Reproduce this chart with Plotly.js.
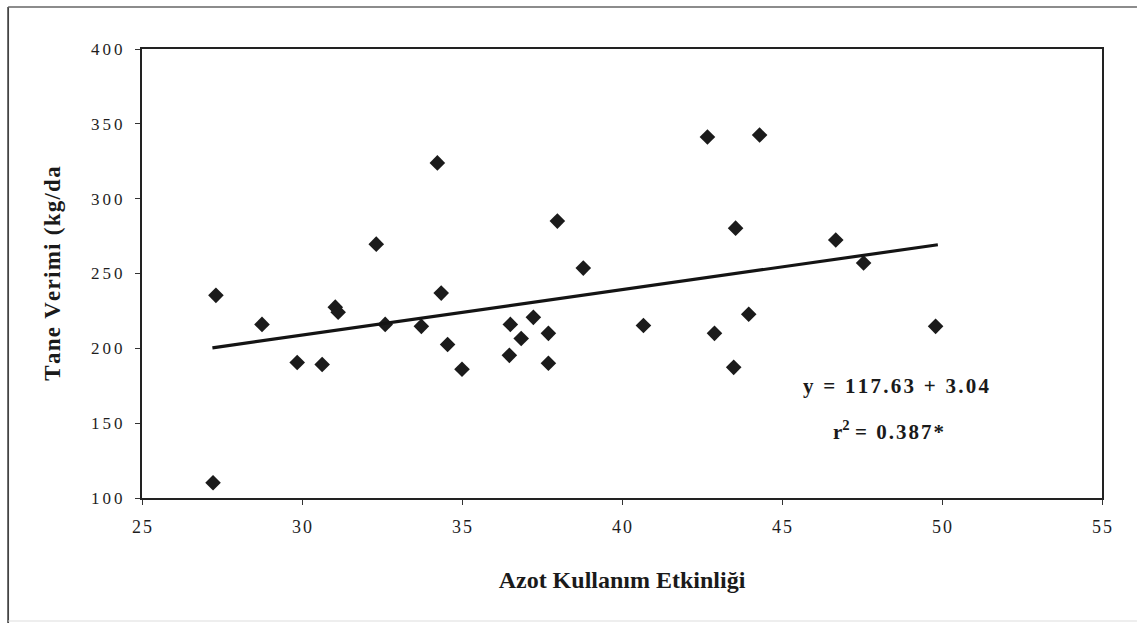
<!DOCTYPE html>
<html>
<head>
<meta charset="utf-8">
<script src="https://cdn.plot.ly/plotly-3.0.1.min.js"></script>
<style>
html,body{margin:0;padding:0;background:#fff;}
#chart{width:1138px;height:623px;}
</style>
</head>
<body>
<div id="chart"></div>
<script>
// Azot Kullanım Etkinliği (x) vs Tane Verimi kg/da (y)
const nueValues = [27.31, 27.22, 28.75, 29.85, 30.63, 31.04, 31.13, 32.32, 32.60, 33.73,
  34.23, 34.35, 34.55, 35.00, 36.51, 36.48, 36.85, 37.23, 37.70, 37.70,
  37.98, 38.79, 40.67, 42.67, 42.89, 43.55, 43.49, 43.96, 44.30, 46.68,
  47.55, 49.80];
const yieldValues = [235.4, 110.2, 216.0, 190.5, 189.2, 227.5, 224.1, 269.6, 216.0, 214.7,
  323.9, 236.9, 202.6, 186.0, 216.0, 195.3, 206.6, 220.7, 210.0, 190.0,
  285.0, 253.6, 215.3, 341.2, 210.0, 280.3, 187.3, 222.8, 342.5, 272.4,
  257.0, 214.7];
const trendX = [27.2, 49.87];
const trendY = [200.3, 269.2];
const xTicks = [25, 30, 35, 40, 45, 50, 55];
const yTicks = [100, 150, 200, 250, 300, 350, 400];
const equationText = "y = 117.63 + 3.04";
const r2Value = "= 0.387*";

const serif = "Liberation Serif, Times New Roman, serif";
// letter spacing emulated with small spaces between characters
const sp = (s, px) => String(s).split("").join('<span style="font-size:' + px + 'px"> </span>');

const traces = [
  {
    x: nueValues, y: yieldValues, type: "scatter", mode: "markers",
    marker: {symbol: "diamond", size: 12, color: "#1b1b1b"},
    hoverinfo: "x+y", showlegend: false
  },
  {
    x: trendX, y: trendY, type: "scatter", mode: "lines",
    line: {color: "#141414", width: 3.2}, hoverinfo: "skip", showlegend: false
  }
];

const px2x = p => (p - 142) / 961;
const px2y = p => (498 - p) / 449;

const layout = {
  width: 1138, height: 623,
  paper_bgcolor: "#ffffff", plot_bgcolor: "#ffffff",
  margin: {l: 142, r: 36, t: 49, b: 125},
  showlegend: false,
  xaxis: {
    range: [25, 55], tickvals: xTicks, ticktext: xTicks.map(v => sp(v, 8)),
    showgrid: false, zeroline: false,
    showline: true, linecolor: "#222", linewidth: 2, mirror: true,
    ticks: "outside", ticklen: 5, tickwidth: 1, tickcolor: "#333",
    ticklabelstandoff: 6,
    tickfont: {family: serif, size: 18, color: "#1e1e1e"},
    title: {text: "<b>Azot Kullanım Etkinliği</b>", font: {family: serif, size: 24, color: "#1a1a1a"}, standoff: 36}
  },
  yaxis: {
    range: [100, 400], tickvals: yTicks, ticktext: yTicks.map(v => sp(v, 12)),
    showgrid: false, zeroline: false,
    showline: true, linecolor: "#222", linewidth: 2, mirror: true,
    ticks: "outside", ticklen: 5, tickwidth: 1, tickcolor: "#333",
    ticklabelstandoff: 9,
    tickfont: {family: serif, size: 17, color: "#1e1e1e"},
    title: {text: "<b>" + sp("Tane Verimi (kg/da", 5) + "</b>", font: {family: serif, size: 23, color: "#1a1a1a"}, standoff: 24}
  },
  annotations: [
    {xref: "paper", yref: "paper", x: px2x(897), y: px2y(386), text: "<b>" + sp(equationText, 9) + "</b>",
     showarrow: false, xanchor: "center", yanchor: "middle", font: {family: serif, size: 21, color: "#1a1a1a"}},
    {xref: "paper", yref: "paper", x: px2x(889), y: px2y(430), text: "<b>r<sup>2</sup> " + sp(r2Value, 8) + "</b>",
     showarrow: false, xanchor: "center", yanchor: "middle", font: {family: serif, size: 21, color: "#1a1a1a"}}
  ],
  shapes: [
    {type: "line", xref: "paper", yref: "paper", x0: px2x(8), x1: px2x(8), y0: px2y(623), y1: px2y(7),
     line: {color: "#444", width: 1.8}},
    {type: "line", xref: "paper", yref: "paper", x0: px2x(8), x1: px2x(1138), y0: px2y(7), y1: px2y(7),
     line: {color: "#666", width: 1.5}},
    {type: "line", xref: "paper", yref: "paper", x0: px2x(8), x1: px2x(1138), y0: px2y(621), y1: px2y(621),
     line: {color: "#dddddd", width: 1}}
  ]
};

Plotly.newPlot("chart", traces, layout, {displayModeBar: false, staticPlot: true});
</script>
</body>
</html>
